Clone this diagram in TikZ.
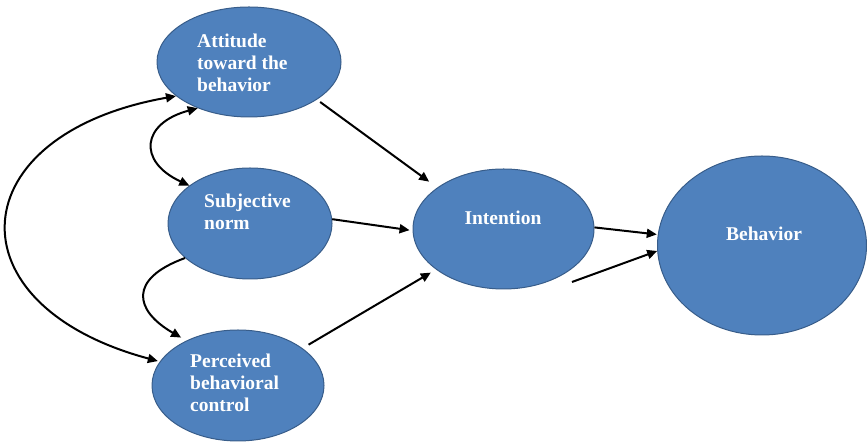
\documentclass[tikz,border=0pt]{standalone}
\usepackage{fontspec}
\setmainfont{Liberation Serif}
\usetikzlibrary{shapes.geometric,arrows.meta}
\definecolor{blobfill}{HTML}{4F81BD}
\definecolor{blobline}{HTML}{385D8A}
\begin{document}
\begin{tikzpicture}[x=1pt,y=1pt,
  blob/.style={ellipse,draw=blobline,line width=1pt,fill=blobfill,inner sep=0pt},
  lbl/.style={text=white,font=\fontsize{19.5}{22}\selectfont\bfseries,align=left,inner sep=0pt},
  tip/.style={-{Triangle[length=10pt,width=9pt]}},
  link/.style={line width=2pt,tip},
  twoway/.style={line width=2pt,{Triangle[length=10pt,width=9pt]}-{Triangle[length=10pt,width=9pt]}}]
\useasboundingbox (0,0) rectangle (867,443);
\node[blob,minimum width=184pt,minimum height=110pt] (att) at (249,381) {};
\node[blob,minimum width=164pt,minimum height=111pt] (sub) at (250,219.5) {};
\node[blob,minimum width=172pt,minimum height=111pt] (pbc) at (238,57.5) {};
\node[blob,minimum width=181pt,minimum height=120pt] (int) at (503.5,214) {};
\node[blob,minimum width=209pt,minimum height=179pt] (beh) at (762,197.5) {};
\node[lbl,anchor=west] (att-txt) at (197,380) {Attitude\\toward the\\behavior};
\node[lbl,anchor=west] (sub-txt) at (204,231) {Subjective\\norm};
\node[lbl,anchor=west] (pbc-txt) at (190,60) {Perceived\\behavioral\\control};
\node[lbl] (int-txt) at (503,225) {Intention};
\node[lbl] (beh-txt) at (764,209) {Behavior};
\coordinate (free) at (572,161);
\draw[link,shorten <=4pt,shorten >=10pt] (att.-29) -- (int.148.6);
\draw[link,shorten >=3pt] (sub.3) -- (int.181);
\draw[link,shorten <=7pt,shorten >=6pt] (pbc.30) -- (int.211.6);
\draw[link,shorten >=1pt] (int.1.3) -- (beh.174.8);
\draw[link] (free) -- (beh.183.5);
\draw[twoway] (att.222.7) to[out=195,in=155,looseness=1.9] (sub.148.7);
\draw[link,shorten >=6pt] (sub.208.6) to[out=200,in=150,looseness=1.87] (pbc.139);
\draw[twoway,shorten >=2pt] (att.205.9) to[out=190,in=165,looseness=2.11] (pbc.163.8);
\end{tikzpicture}
\end{document}
